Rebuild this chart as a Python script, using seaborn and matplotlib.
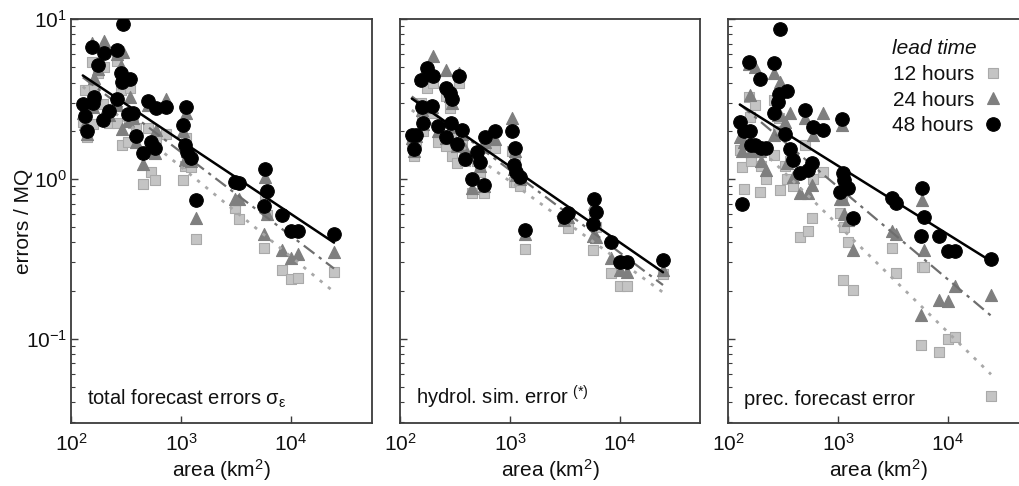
import numpy as np
import pandas as pd
import matplotlib
matplotlib.use("Agg")
import matplotlib.pyplot as plt
from matplotlib.lines import Line2D
import matplotlib.ticker as mticker
import seaborn as sns

# ---------------- data ----------------
areas = [128, 134, 139, 154, 160, 162, 177, 197, 201, 223,
         260, 264, 283, 289, 299, 332, 344, 364, 390, 449,
         498, 534, 580, 593, 731, 1042, 1087, 1103, 1127, 1233,
         1361, 3097, 3367, 5689, 5807, 6016, 8340, 10000, 11640, 24600]

# panel 1: total forecast errors
total_12h = [2.26, 3.6, 1.82, 5.4, 2.2, 3.6, 4.6, 2.93, 5.0, 2.25,
             2.25, 5.5, 3.6, 1.62, 3.9, 1.7, 3.7, 2.23, 2.07, 0.93,
             2.09, 1.11, 0.99, 1.8, 1.9, 0.99, 1.2, 1.8, 1.25, 1.19,
             0.42, 0.66, 0.56, 0.37, 0.8, 0.59, 0.27, 0.236, 0.24, 0.26]
total_24h = [2.6, 2.2, 1.9, 7.1, 2.8, 4.3, 4.9, 2.52, 7.3, 2.5,
             2.9, 6.0, 5.08, 2.05, 6.25, 2.3, 3.27, 2.4, 1.7, 1.24,
             2.9, 1.48, 1.45, 2.03, 3.17, 2.0, 1.31, 2.6, 1.5, 1.3,
             0.57, 0.75, 0.75, 0.45, 1.03, 0.6, 0.36, 0.32, 0.34, 0.35]
total_48h = [2.94, 2.49, 2.0, 6.72, 2.97, 3.24, 5.14, 2.34, 6.11, 2.66,
             3.16, 6.40, 4.61, 4.06, 9.26, 2.53, 4.22, 2.57, 1.86, 1.45,
             3.08, 1.71, 1.56, 2.77, 2.83, 2.17, 1.63, 2.83, 1.48, 1.35,
             0.74, 0.95, 0.94, 0.68, 1.15, 0.84, 0.59, 0.47, 0.47, 0.45]

# panel 2: hydrological simulation error
hydro_12h = [1.67, 1.39, 1.7, 3.0, 2.4, 2.0, 3.69, 2.6, 4.0, 1.71,
             1.6, 3.3, 2.77, 1.8, 1.39, 1.26, 4.0, 1.7, 1.3, 0.82,
             1.3, 1.1, 0.82, 1.55, 1.57, 1.5, 0.96, 1.4, 0.95, 0.9,
             0.365, 0.56, 0.49, 0.36, 0.6, 0.5, 0.257, 0.214, 0.214, 0.255]
hydro_24h = [1.8, 1.5, 1.85, 4.3, 2.7, 2.2, 4.9, 2.8, 5.87, 2.0,
             1.8, 4.8, 3.3, 2.1, 3.0, 1.6, 4.6, 1.9, 1.53, 0.875,
             1.4, 1.2, 0.9, 1.7, 1.77, 2.39, 1.15, 1.5, 1.05, 1.0,
             0.45, 0.55, 0.58, 0.44, 0.7, 0.43, 0.32, 0.27, 0.26, 0.27]
hydro_48h = [1.88, 1.53, 1.88, 4.16, 2.81, 2.25, 4.92, 2.86, 4.40, 2.15,
             1.84, 3.69, 3.43, 2.23, 3.15, 1.65, 4.40, 2.02, 1.33, 1.0,
             1.48, 1.27, 0.92, 1.84, 1.98, 2.0, 1.22, 1.57, 1.11, 1.02,
             0.48, 0.58, 0.61, 0.52, 0.75, 0.62, 0.40, 0.30, 0.30, 0.31]

# panel 3: precipitation forecast error
prec_12h = [1.52, 1.18, 0.86, 3.27, 2.43, 1.3, 2.9, 0.83, 1.2, 1.0,
            3.12, 1.41, 2.0, 2.39, 0.85, 1.21, 1.0, 1.3, 0.9, 0.43,
            1.63, 0.47, 0.57, 1.0, 1.1, 0.61, 0.74, 0.234, 0.5, 0.4,
            0.202, 0.37, 0.257, 0.091, 0.28, 0.28, 0.083, 0.099, 0.102, 0.044]
prec_24h = [1.84, 1.5, 1.7, 5.2, 3.35, 1.5, 5.03, 1.5, 1.3, 1.14,
            1.88, 4.6, 2.5, 2.6, 4.06, 2.28, 1.25, 2.57, 1.03, 0.82,
            2.39, 0.82, 0.92, 1.88, 2.57, 0.75, 2.18, 0.75, 0.6, 0.55,
            0.36, 0.47, 0.45, 0.141, 0.74, 0.36, 0.175, 0.173, 0.214, 0.188]
prec_48h = [2.28, 0.70, 1.98, 5.36, 1.98, 1.62, 1.62, 4.22, 1.56, 1.56,
            2.57, 5.29, 3.04, 3.39, 8.62, 1.91, 3.55, 1.54, 1.32, 1.09,
            2.7, 1.14, 1.25, 2.1, 2.02, 0.83, 2.37, 1.09, 0.99, 0.875,
            0.57, 0.76, 0.71, 0.44, 0.875, 0.58, 0.44, 0.356, 0.356, 0.316]

panel_texts = [r"total forecast errors $\sigma_{\varepsilon}$",
               r"hydrol. sim. error $^{(*)}$",
               "prec. forecast error"]
lead_labels = ["12 hours", "24 hours", "48 hours"]
x_ticks = [1e2, 1e3, 1e4]
y_ticks = [1e-1, 1e0, 1e1]

panels = [
    {"12 hours": total_12h, "24 hours": total_24h, "48 hours": total_48h},
    {"12 hours": hydro_12h, "24 hours": hydro_24h, "48 hours": hydro_48h},
    {"12 hours": prec_12h, "24 hours": prec_24h, "48 hours": prec_48h},
]

# ---------------- style ----------------
sns.set_theme(style="ticks")
plt.rcParams["font.family"] = ["Liberation Sans", "DejaVu Sans"]
plt.rcParams["mathtext.fontset"] = "custom"
plt.rcParams["mathtext.rm"] = "Liberation Sans"
plt.rcParams["mathtext.it"] = "Liberation Sans:italic"
plt.rcParams["mathtext.default"] = "regular"

styles = {
    "12 hours": dict(marker="s", face="#c4c4c4", edge="#a9a9a9", s=62,
                     lcolor="#a8a8a8", ls=(0, (1.2, 2.6)), lw=2.0, z=3),
    "24 hours": dict(marker="^", face="#7f7f7f", edge="#7f7f7f", s=75,
                     lcolor="#6e6e6e", ls=(0, (6, 2.5, 1.5, 2.5)), lw=1.6, z=4),
    "48 hours": dict(marker="o", face="#000000", edge="#000000", s=95,
                     lcolor="#000000", ls="-", lw=1.8, z=6),
}

W, H = 1019, 486
fig = plt.figure(figsize=(W / 100, H / 100), dpi=100)
bottom = 63 / H
height = 404 / H
lefts = [71, 400, 728]
widths = [301, 300, 300]
FS = 15

spine_col = "#3c3c3c"
text_col = "#111111"
axes = []
for i, (lft, wd) in enumerate(zip(lefts, widths)):
    ax = fig.add_axes([lft / W, bottom, wd / W, height])
    axes.append(ax)
    data = panels[i]
    for lab in lead_labels:
        st = styles[lab]
        df = pd.DataFrame({"area": areas, "err": data[lab]})
        sns.scatterplot(data=df, x="area", y="err", ax=ax, marker=st["marker"],
                        color=st["face"], edgecolor=st["edge"], s=st["s"],
                        linewidth=0.8, zorder=st["z"])
    # log-log regression lines
    for lab in lead_labels:
        st = styles[lab]
        la = np.log10(np.array(areas, float))
        lv = np.log10(np.array(data[lab], float))
        b, a = np.polyfit(la, lv, 1)
        xs = np.linspace(la.min(), la.max(), 50)
        fit = pd.DataFrame({"area": 10 ** xs, "err": 10 ** (a + b * xs)})
        sns.lineplot(data=fit, x="area", y="err", ax=ax, color=st["lcolor"],
                     linestyle=st["ls"], linewidth=st["lw"], zorder=5)
    ax.set_xscale("log")
    ax.set_yscale("log")
    ax.set_xlim(100, 10 ** (2 + wd / 110))
    ax.set_ylim(0.0297, 10)
    ax.set_xticks(x_ticks)
    ax.xaxis.set_minor_locator(mticker.NullLocator())
    ax.set_yticks(y_ticks)
    ax.yaxis.set_minor_locator(mticker.LogLocator(base=10, subs=np.arange(2, 10)))
    ax.yaxis.set_minor_formatter(mticker.NullFormatter())
    ax.tick_params(axis="both", which="both", direction="in", color=spine_col,
                   top=False, right=False, labelsize=FS, labelcolor=text_col)
    ax.tick_params(axis="both", which="major", length=5, width=1)
    ax.tick_params(axis="y", which="minor", length=3, width=0.8, left=True)
    ax.tick_params(axis="x", which="major", pad=7)
    ax.tick_params(axis="y", which="major", pad=3)
    for sp in ax.spines.values():
        sp.set_color(spine_col)
        sp.set_linewidth(1.3)
    ax.set_xlabel("area (km$^2$)", fontsize=FS, color=text_col, va="top")
    ax.xaxis.set_label_coords(0.5, -(457 - 423) / 404)
    if i == 0:
        ax.set_ylabel("errors / MQ", fontsize=FS, color=text_col)
        ax.yaxis.set_label_coords(-(71 - 33) / 301, 0.5)
    else:
        ax.set_ylabel("")
        ax.tick_params(axis="y", which="both", labelleft=False)
    ax.text(0.053, 0.045, panel_texts[i], transform=ax.transAxes,
            fontsize=14.5, ha="left", va="baseline", color=text_col, zorder=10)
    if ax.get_legend() is not None:
        ax.get_legend().remove()

# legend in third panel
handles = []
for lab in lead_labels:
    st = styles[lab]
    handles.append(Line2D([], [], linestyle="none", marker=st["marker"],
                          markerfacecolor=st["face"], markeredgecolor=st["edge"],
                          markersize=np.sqrt(st["s"]), markeredgewidth=0.8))
leg = axes[2].legend(handles, lead_labels, title="lead time", markerfirst=False,
                     frameon=False, loc="upper left",
                     bbox_to_anchor=(882 / W, (H - 29) / H),
                     bbox_transform=fig.transFigure, fontsize=15,
                     title_fontproperties={"style": "italic", "size": 15},
                     alignment="left", handletextpad=0.45, labelspacing=0.32,
                     borderpad=0.0, handlelength=0.9)
for t in leg.get_texts():
    t.set_color(text_col)
leg.get_title().set_color(text_col)

fig.savefig("out.png", dpi=100)
